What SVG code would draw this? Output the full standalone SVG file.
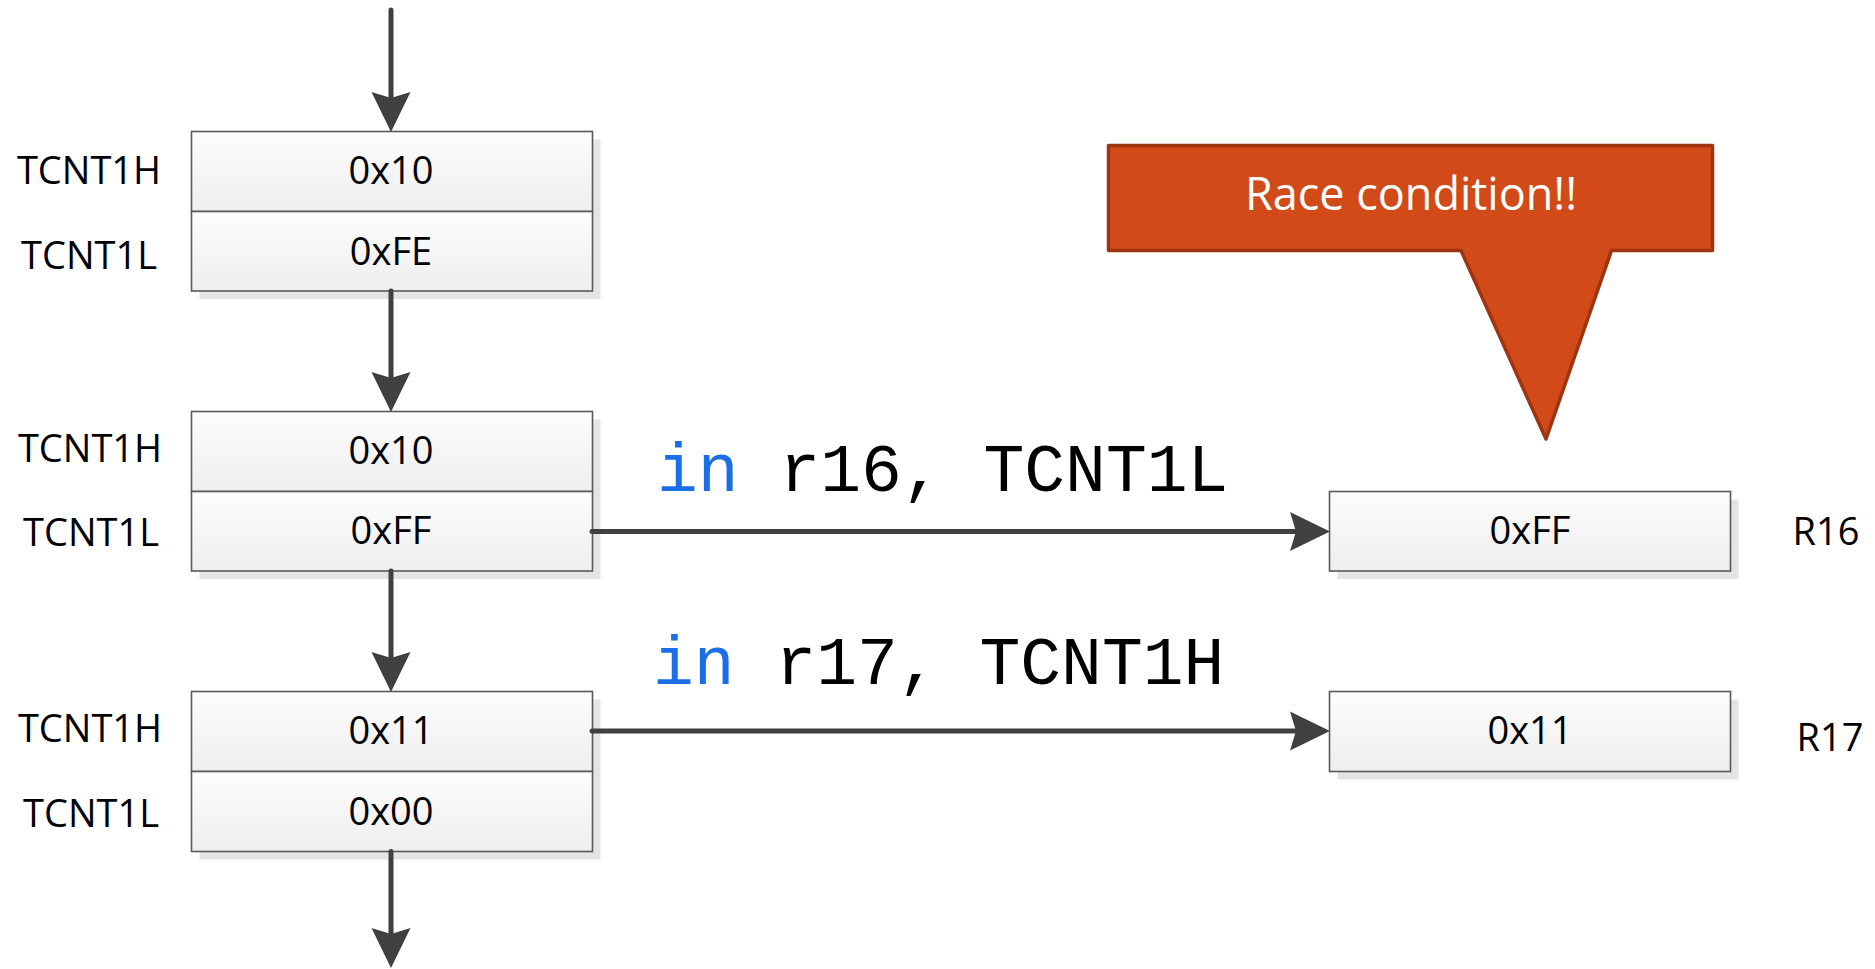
<svg xmlns="http://www.w3.org/2000/svg" width="1875" height="969" viewBox="0 0 1875 969">
  <defs>
    <linearGradient id="cellFill" x1="0" y1="0" x2="0" y2="1">
      <stop offset="0" stop-color="#fdfdfd"/>
      <stop offset="1" stop-color="#eeeeee"/>
    </linearGradient>
    <marker id="head" markerUnits="userSpaceOnUse" markerWidth="42" markerHeight="42" viewBox="0 0 42 42" refX="10" refY="21" orient="auto">
      <path d="M1,1.5 L41,21 L1,40.5 L7,21 Z" fill="#404040"/>
    </marker>
    <style>
      .cell { fill: url(#cellFill); stroke: #595959; stroke-width: 1.6; }
      .shadow { fill: #e4e4e4; }
      .val { font-family: "Open Sans", "Liberation Sans", sans-serif; font-size: 38px; fill: #000; text-anchor: middle; }
      .lbl { font-family: "Open Sans", "Liberation Sans", sans-serif; font-size: 38px; fill: #000; text-anchor: middle; }
      .code { font-family: "Liberation Mono", "DejaVu Sans Mono", monospace; font-size: 68px; fill: #000; }
      .kw { fill: #1a6ee8; }
      .wire { fill: none; stroke: #404040; stroke-width: 5; stroke-linecap: round; marker-end: url(#head); }
    </style>
  </defs>

  <rect width="1875" height="969" fill="#ffffff"/>

  <!-- timer counter snapshot 1 -->
  <g id="counter1">
    <rect class="shadow" x="199.5" y="139.5" width="401" height="159.5"/>
    <rect class="cell" x="191.5" y="131.5" width="401" height="80"/>
    <rect class="cell" x="191.5" y="211.5" width="401" height="79.5"/>
    <text class="val" x="391" y="184">0x10</text>
    <text class="val" x="391" y="265">0xFE</text>
    <text class="lbl" x="89" y="184">TCNT1H</text>
    <text class="lbl" x="89" y="269">TCNT1L</text>
  </g>

  <!-- timer counter snapshot 2 -->
  <g id="counter2">
    <rect class="shadow" x="199.5" y="419.5" width="401" height="159.5"/>
    <rect class="cell" x="191.5" y="411.5" width="401" height="80"/>
    <rect class="cell" x="191.5" y="491.5" width="401" height="79.5"/>
    <text class="val" x="391" y="464">0x10</text>
    <text class="val" x="391" y="544">0xFF</text>
    <text class="lbl" x="90" y="462">TCNT1H</text>
    <text class="lbl" x="91" y="546">TCNT1L</text>
  </g>

  <!-- timer counter snapshot 3 -->
  <g id="counter3">
    <rect class="shadow" x="199.5" y="699.5" width="401" height="160"/>
    <rect class="cell" x="191.5" y="691.5" width="401" height="80"/>
    <rect class="cell" x="191.5" y="771.5" width="401" height="80"/>
    <text class="val" x="391" y="744">0x11</text>
    <text class="val" x="391" y="825">0x00</text>
    <text class="lbl" x="90" y="742">TCNT1H</text>
    <text class="lbl" x="91" y="827">TCNT1L</text>
  </g>

  <!-- register r16 -->
  <g id="reg-r16">
    <rect class="shadow" x="1337.5" y="499.5" width="401" height="79.5"/>
    <rect class="cell" x="1329.5" y="491.5" width="401" height="79.5"/>
    <text class="val" x="1530" y="544">0xFF</text>
    <text class="lbl" x="1826" y="545">R16</text>
  </g>

  <!-- register r17 -->
  <g id="reg-r17">
    <rect class="shadow" x="1337.5" y="699.5" width="401" height="80"/>
    <rect class="cell" x="1329.5" y="691.5" width="401" height="80"/>
    <text class="val" x="1530" y="744">0x11</text>
    <text class="lbl" x="1830" y="751">R17</text>
  </g>

  <!-- callout -->
  <g id="callout">
    <path d="M1108.5,145.5 H1712.5 V250.5 H1611.5 L1546,439 L1461,250.5 H1108.5 Z" fill="#d24a17" stroke="#9e3410" stroke-width="3.5" stroke-linejoin="round"/>
    <text x="1411" y="210" font-family="'Open Sans', 'Liberation Sans', sans-serif" font-size="45" fill="#ffffff" text-anchor="middle">Race condition!!</text>
  </g>

  <!-- connectors -->
  <g id="connectors">
    <line class="wire" x1="391" y1="10" x2="391" y2="101"/>
    <line class="wire" x1="391" y1="291" x2="391" y2="381"/>
    <line class="wire" x1="391" y1="571" x2="391" y2="661"/>
    <line class="wire" x1="391" y1="851.5" x2="391" y2="937"/>
    <line class="wire" x1="592" y1="531.5" x2="1299" y2="531.5"/>
    <line class="wire" x1="592" y1="731" x2="1299" y2="731"/>
    <text class="code" x="657" y="491"><tspan class="kw">in</tspan> r16, TCNT1L</text>
    <text class="code" x="653" y="684"><tspan class="kw">in</tspan> r17, TCNT1H</text>
  </g>
</svg>
